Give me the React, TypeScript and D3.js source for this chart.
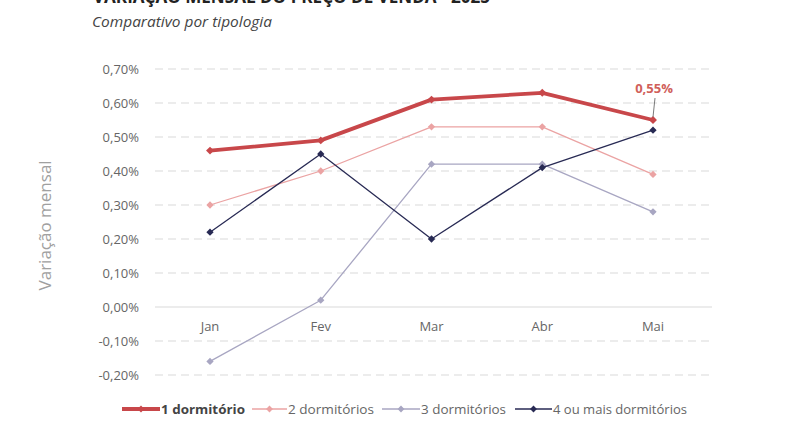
import React, { useEffect, useRef } from 'react';
import * as d3 from 'd3';

const months = ['Jan', 'Fev', 'Mar', 'Abr', 'Mai'];
const yTicks = [-0.2, -0.1, 0, 0.1, 0.2, 0.3, 0.4, 0.5, 0.6, 0.7];

const umDorm = [0.46, 0.49, 0.61, 0.63, 0.55];
const doisDorm = [0.3, 0.4, 0.53, 0.53, 0.39];
const tresDorm = [-0.16, 0.02, 0.42, 0.42, 0.28];
const quatroDorm = [0.22, 0.45, 0.2, 0.41, 0.52];

const seriesNames = ['1 dormitório', '2 dormitórios', '3 dormitórios', '4 ou mais dormitórios'];

const App = () => {
    const svgRef = useRef(null);

    useEffect(() => {
        const svg = d3.select(svgRef.current);
        svg.selectAll('*').remove();

        const font = "'Open Sans', 'Noto Sans', sans-serif";

        const x = d3.scalePoint().domain(months).range([210, 653]);
        const y = d3.scaleLinear().domain([-0.2, 0.7]).range([375, 69]);

        // Title (cut off at top) and subtitle
        svg.append('text')
            .attr('x', 93).attr('y', 3)
            .attr('font-family', font).attr('font-weight', 700)
            .attr('font-size', 17).attr('fill', '#222')
            .attr('textLength', 397).attr('lengthAdjust', 'spacingAndGlyphs')
            .text('VARIAÇÃO MENSAL DO PREÇO DE VENDA - 2025');

        svg.append('text')
            .attr('x', 92).attr('y', 27)
            .attr('font-family', font).attr('font-style', 'italic')
            .attr('font-size', 14).attr('fill', '#444')
            .attr('textLength', 180).attr('lengthAdjust', 'spacingAndGlyphs')
            .text('Comparativo por tipologia');

        // Grid lines
        const grid = svg.append('g');
        grid.selectAll('line')
            .data(yTicks)
            .enter().append('line')
            .attr('x1', 155).attr('x2', 712)
            .attr('y1', d => y(d)).attr('y2', d => y(d))
            .attr('stroke', '#d9d9d9')
            .attr('stroke-width', 1)
            .attr('stroke-dasharray', d => (d === 0 ? null : '8,5'));

        // Y tick labels
        svg.append('g')
            .selectAll('text')
            .data(yTicks)
            .enter().append('text')
            .attr('x', 139).attr('y', d => y(d))
            .attr('dy', '0.35em')
            .attr('text-anchor', 'end')
            .attr('font-family', font).attr('font-size', 13)
            .attr('fill', '#666')
            .text(d => d3.format('.2f')(d).replace('.', ',').replace('−', '-') + '%');

        // X category labels
        svg.append('g')
            .selectAll('text')
            .data(months)
            .enter().append('text')
            .attr('x', d => x(d)).attr('y', y(0) + 24)
            .attr('text-anchor', 'middle')
            .attr('font-family', font).attr('font-size', 13)
            .attr('fill', '#666')
            .text(d => d);

        // Y axis title
        svg.append('text')
            .attr('transform', `translate(51,${y(0.24)}) rotate(-90)`)
            .attr('text-anchor', 'middle')
            .attr('font-family', font).attr('font-size', 17)
            .attr('fill', '#a0a0a0')
            .text('Variação mensal');

        const series = [
            { name: seriesNames[1], values: doisDorm, color: '#eba3a3', width: 1.3, size: 34 },
            { name: seriesNames[2], values: tresDorm, color: '#a8a6c2', width: 1.3, size: 34 },
            { name: seriesNames[3], values: quatroDorm, color: '#282a54', width: 1.3, size: 34 },
            { name: seriesNames[0], values: umDorm, color: '#c8474a', width: 3.8, size: 40 },
        ];

        const line = d3.line()
            .x((d, i) => x(months[i]))
            .y(d => y(d));

        series.forEach(s => {
            svg.append('path')
                .datum(s.values)
                .attr('fill', 'none')
                .attr('stroke', s.color)
                .attr('stroke-width', s.width)
                .attr('stroke-linejoin', 'round')
                .attr('d', line);

            svg.append('g')
                .selectAll('path')
                .data(s.values)
                .enter().append('path')
                .attr('transform', (d, i) => `translate(${x(months[i])},${y(d)})`)
                .attr('d', d3.symbol(d3.symbolDiamond2, s.size)())
                .attr('fill', s.color);
        });

        // Annotation for last value of 1 dormitório
        const lastX = x('Mai');
        const lastY = y(umDorm[4]);
        svg.append('line')
            .attr('x1', lastX + 2).attr('y1', lastY - 22)
            .attr('x2', lastX).attr('y2', lastY - 3)
            .attr('stroke', '#7a7a7a').attr('stroke-width', 1);
        svg.append('text')
            .attr('x', lastX + 1).attr('y', lastY - 27)
            .attr('text-anchor', 'middle')
            .attr('font-family', font).attr('font-weight', 700)
            .attr('font-size', 13).attr('fill', '#d0605a')
            .text('0,55%');

        // Legend
        const legendItems = [
            { name: seriesNames[0], color: '#c8474a', width: 3.8, x: 122, w: 38, tl: 84, bold: true },
            { name: seriesNames[1], color: '#eba3a3', width: 1.3, x: 252, w: 35, tl: 86, bold: false },
            { name: seriesNames[2], color: '#a8a6c2', width: 1.3, x: 382, w: 38, tl: 85, bold: false },
            { name: seriesNames[3], color: '#282a54', width: 1.3, x: 515, w: 37, tl: 134, bold: false },
        ];
        const legend = svg.append('g')
            .selectAll('g')
            .data(legendItems)
            .enter().append('g')
            .attr('transform', d => `translate(${d.x},409)`);

        legend.append('line')
            .attr('x1', 0).attr('x2', d => d.w)
            .attr('stroke', d => d.color)
            .attr('stroke-width', d => d.width);
        legend.append('path')
            .attr('transform', d => `translate(${d.w / 2},0)`)
            .attr('d', d3.symbol(d3.symbolDiamond2, 30)())
            .attr('fill', d => d.color);
        legend.append('text')
            .attr('x', d => d.w + 1).attr('dy', '0.35em')
            .attr('font-family', font).attr('font-size', 13)
            .attr('font-weight', d => (d.bold ? 700 : 400))
            .attr('fill', d => (d.bold ? '#444' : '#666'))
            .attr('textLength', d => d.tl).attr('lengthAdjust', 'spacingAndGlyphs')
            .text(d => d.name);
    }, []);

    return (
        <svg
            ref={svgRef}
            width={800}
            height={445}
            style={{ position: 'absolute', left: 0, top: 0, background: '#fff' }}
        />
    );
};

export default App;
